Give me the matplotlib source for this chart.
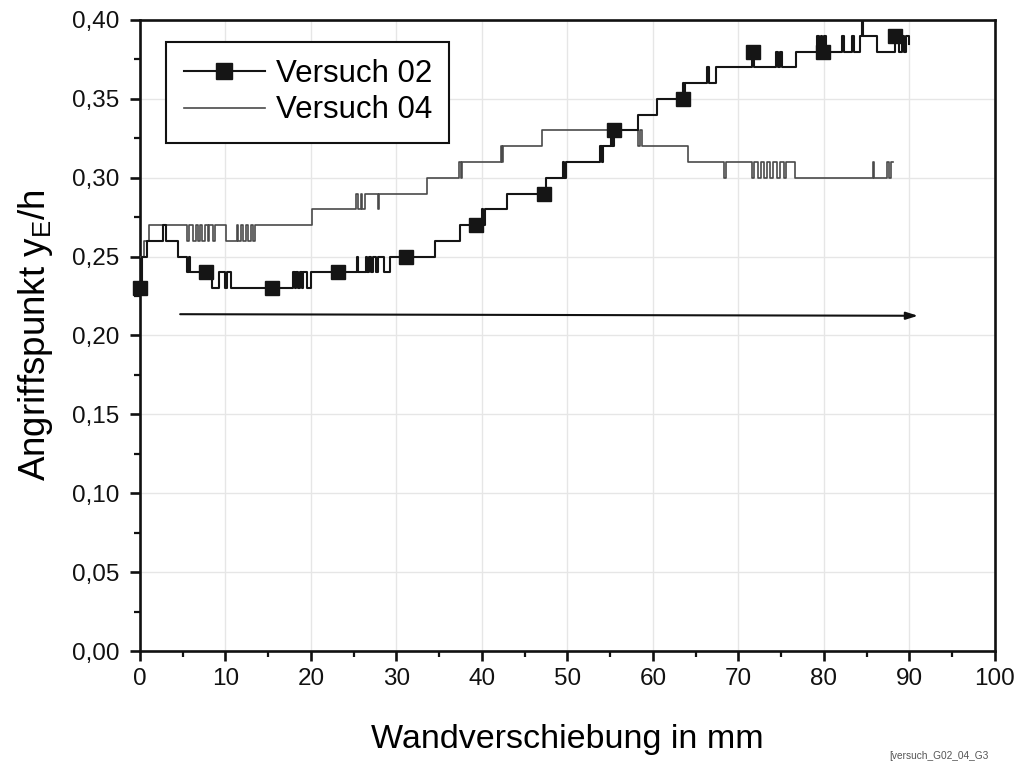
import matplotlib
matplotlib.use("Agg")
import matplotlib.pyplot as plt
from matplotlib.lines import Line2D

plt.rcParams['font.family'] = ['Liberation Sans', 'DejaVu Sans']
plt.rcParams['mathtext.default'] = 'regular'

# ---------------- data ----------------
v02_x = [0, 0.2, 0.8, 2.7, 3.0, 4.4, 5.5, 5.7, 5.9, 8.4, 9.2, 9.9, 10.2, 10.7,
         17.9, 18.1, 18.3, 18.5, 18.7, 18.9, 19.1, 19.5, 20.0,
         25.4, 25.5, 26.4, 26.6, 26.8, 27.0, 27.2, 27.6, 27.8, 28.5, 29.3,
         34.5, 37.4, 40.0, 40.1, 40.3, 42.9, 47.5, 49.5, 49.6, 49.8,
         53.8, 54.0, 54.2, 55.1, 55.2, 55.4, 58.3, 60.5, 63.5, 63.6, 63.8,
         66.3, 66.5, 67.4, 71.6, 71.8, 74.4, 74.6, 74.8, 75.1, 76.7,
         79.2, 79.4, 79.6, 79.8, 80.0, 80.2, 82.1, 82.3, 83.3, 83.5,
         84.2, 84.4, 84.6, 86.2, 88.3, 88.8, 89.1, 89.4, 89.6, 89.9]
v02_y = [0.23, 0.25, 0.26, 0.27, 0.26, 0.25, 0.24, 0.25, 0.24, 0.23, 0.24, 0.23, 0.24, 0.23,
         0.24, 0.23, 0.24, 0.23, 0.24, 0.23, 0.24, 0.23, 0.24,
         0.25, 0.24, 0.25, 0.24, 0.25, 0.24, 0.25, 0.24, 0.25, 0.24, 0.25,
         0.26, 0.27, 0.28, 0.27, 0.28, 0.29, 0.30, 0.31, 0.30, 0.31,
         0.32, 0.31, 0.32, 0.33, 0.32, 0.33, 0.34, 0.35, 0.36, 0.35, 0.36,
         0.37, 0.36, 0.37, 0.38, 0.37, 0.38, 0.37, 0.38, 0.37, 0.38,
         0.39, 0.38, 0.39, 0.38, 0.39, 0.38, 0.39, 0.38, 0.39, 0.38,
         0.39, 0.40, 0.39, 0.38, 0.39, 0.38, 0.39, 0.38, 0.39, 0.385]

v02_marker_x = [0, 7.7, 15.4, 23.2, 31.1, 39.3, 47.2, 55.4, 63.5, 71.7, 79.9, 88.3]
v02_marker_y = [0.23, 0.24, 0.23, 0.24, 0.25, 0.27, 0.29, 0.33, 0.35, 0.38, 0.38, 0.39]

v04_x = [0, 0.5, 1.1, 5.5, 5.7, 6.2, 6.5, 6.8, 7.0, 7.3, 7.6, 7.9, 8.1, 8.5, 8.8,
         10.1, 11.3, 11.5, 11.8, 12.0, 12.4, 12.6, 13.0, 13.2, 13.5,
         20.1, 25.3, 25.5, 25.8, 26.0, 26.3, 27.8, 28.0, 33.6,
         37.3, 37.5, 37.7, 42.2, 42.4, 42.5, 47.0, 58.3, 58.5, 58.7, 64.1,
         68.3, 68.6, 71.6, 71.8, 72.3, 72.6, 73.0, 73.3, 73.7, 74.0, 74.5, 74.8,
         75.3, 75.6, 76.6, 85.7, 85.9, 87.4, 87.6, 87.8, 88.1]
v04_y = [0.25, 0.26, 0.27, 0.26, 0.27, 0.26, 0.27, 0.26, 0.27, 0.26, 0.27, 0.26, 0.27, 0.26, 0.27,
         0.26, 0.27, 0.26, 0.27, 0.26, 0.27, 0.26, 0.27, 0.26, 0.27,
         0.28, 0.29, 0.28, 0.29, 0.28, 0.29, 0.28, 0.29, 0.30,
         0.31, 0.30, 0.31, 0.32, 0.31, 0.32, 0.33, 0.32, 0.33, 0.32, 0.31,
         0.30, 0.31, 0.30, 0.31, 0.30, 0.31, 0.30, 0.31, 0.30, 0.31, 0.30, 0.31,
         0.30, 0.31, 0.30, 0.31, 0.30, 0.31, 0.30, 0.31, 0.31]

arrow_x = [4.7, 91.0]
arrow_y = [0.2135, 0.2125]

x_ticks = [0, 10, 20, 30, 40, 50, 60, 70, 80, 90, 100]
x_ticklabels = ['0', '10', '20', '30', '40', '50', '60', '70', '80', '90', '100']
y_ticks = [0.00, 0.05, 0.10, 0.15, 0.20, 0.25, 0.30, 0.35, 0.40]
y_ticklabels = ['0,00', '0,05', '0,10', '0,15', '0,20', '0,25', '0,30', '0,35', '0,40']

labels = ['Versuch 02', 'Versuch 04']
x_label = 'Wandverschiebung in mm'
y_label = 'Angriffspunkt y$_E$/h'
footer = '[versuch_G02_04_G3'

# ---------------- figure ----------------
fig = plt.figure(figsize=(10.21, 7.65), dpi=100)
ax = fig.add_axes([0.1371, 0.149, 0.8374, 0.8249])

c02 = '#151515'
c04 = '#4a4a4a'

ax.plot(v04_x, v04_y, drawstyle='steps-post', color=c04, lw=1.2, zorder=3)
ax.plot(v02_x, v02_y, drawstyle='steps-post', color=c02, lw=1.5, zorder=4)
ax.plot(v02_marker_x, v02_marker_y, ls='none', marker='s', ms=9.5,
        color=c02, zorder=5, clip_on=False)

ax.annotate('', xy=(arrow_x[1], arrow_y[1]), xytext=(arrow_x[0], arrow_y[0]),
            arrowprops=dict(arrowstyle='-|>,head_length=0.7,head_width=0.22',
                            color='#111111', lw=1.5, shrinkA=0, shrinkB=0),
            zorder=4)

ax.set_xlim(0, 100)
ax.set_ylim(0, 0.40)
ax.set_xticks(x_ticks)
ax.set_xticklabels(x_ticklabels)
ax.set_yticks(y_ticks)
ax.set_yticklabels(y_ticklabels)
ax.set_xticks([5, 15, 25, 35, 45, 55, 65, 75, 85, 95], minor=True)
ax.set_yticks([0.025, 0.075, 0.125, 0.175, 0.225, 0.275, 0.325, 0.375], minor=True)

ax.grid(True, which='major', color='#e6e6e6', lw=1.0, zorder=0)
ax.set_axisbelow(True)

for s in ax.spines.values():
    s.set_linewidth(1.9)
    s.set_color('#111111')

ax.tick_params(which='major', direction='out', length=7, width=1.9,
               labelsize=17.5, colors='#111111', labelcolor='#111111')
ax.tick_params(axis='y', which='major', pad=8)
ax.tick_params(axis='x', which='major', pad=5)
ax.tick_params(which='minor', direction='out', length=4, width=1.6,
               colors='#111111')
ax.tick_params(top=False, right=False, which='both')

ax.set_xlabel(x_label, fontsize=24.5, labelpad=25)
ax.set_ylabel(y_label, fontsize=26.5, labelpad=12)

h02 = Line2D([], [], color=c02, lw=1.5, marker='s', ms=11)
h04 = Line2D([], [], color=c04, lw=1.2)
leg = ax.legend([h02, h04], labels, loc='upper left',
                bbox_to_anchor=(0.031, 0.965), fontsize=22.5, frameon=True,
                fancybox=False, framealpha=1, edgecolor='#111111',
                handlelength=2.6, handletextpad=0.35, labelspacing=0.2,
                borderpad=0.55, borderaxespad=0.0)
leg.get_frame().set_linewidth(1.5)

fig.text(0.871, 0.008, footer, fontsize=7.3, color='#555555')

fig.savefig('out.png', dpi=100)
